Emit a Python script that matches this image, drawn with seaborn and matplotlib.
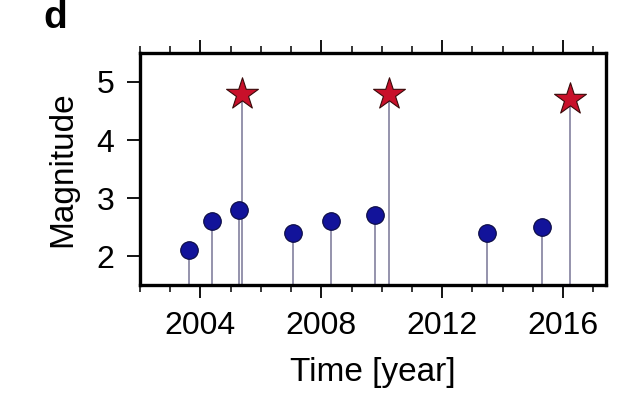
import matplotlib
matplotlib.use("Agg")
import matplotlib.pyplot as plt
import seaborn as sns
import pandas as pd
from matplotlib.ticker import MultipleLocator

# small events (circles)
small_year = [2003.62, 2004.38, 2005.29, 2007.07, 2008.31, 2009.77, 2013.49, 2015.29]
small_mag = [2.1, 2.6, 2.8, 2.4, 2.6, 2.7, 2.4, 2.5]
# large events (stars)
large_year = [2005.38, 2010.25, 2016.23]
large_mag = [4.8, 4.8, 4.7]
x_ticks = [2004, 2008, 2012, 2016]
y_ticks = [2, 3, 4, 5]

sns.set_theme(style="white")
plt.rcParams['font.family'] = ['Liberation Sans', 'DejaVu Sans']
plt.rcParams.update({"text.color": "black", "axes.labelcolor": "black",
                     "xtick.color": "black", "ytick.color": "black"})

fig = plt.figure(figsize=(6.44, 3.94), dpi=100)
ax = fig.add_axes([0.2174, 0.2766, 0.7236, 0.5889])

ymin, ymax = 1.5, 5.5
df_s = pd.DataFrame({"year": small_year, "mag": small_mag})
df_l = pd.DataFrame({"year": large_year, "mag": large_mag})

stem_c = "#8c8aa6"
ax.vlines(df_s["year"], ymin, df_s["mag"], color=stem_c, lw=1.3, zorder=1)
ax.vlines(df_l["year"], ymin, df_l["mag"], color=stem_c, lw=1.3, zorder=1)

sns.scatterplot(data=df_s, x="year", y="mag", ax=ax, marker="o", s=160,
                color="#12139a", edgecolor="#0a0a40", linewidth=0.8, zorder=3)
sns.scatterplot(data=df_l, x="year", y="mag", ax=ax, marker="*", s=580,
                color="#c8102a", edgecolor="#3a0a0a", linewidth=0.8, zorder=3)

ax.set_xlim(2002, 2017.42)
ax.set_ylim(ymin, ymax)
ax.set_xticks(x_ticks)
ax.set_yticks(y_ticks)
ax.xaxis.set_minor_locator(MultipleLocator(1))

for s in ax.spines.values():
    s.set_linewidth(2.4)
    s.set_color("black")

ax.tick_params(axis="x", which="major", direction="out", length=9.5, width=1.3,
               top=True, bottom=True, labelsize=23, pad=9)
ax.tick_params(axis="x", which="minor", direction="out", length=5, width=1.1,
               top=True, bottom=True)
ax.tick_params(axis="y", which="major", direction="out", length=9.5, width=1.3,
               left=True, right=False, labelsize=23, pad=9)

ax.set_xlabel("Time [year]", fontsize=24, labelpad=12)
ax.set_ylabel("Magnitude", fontsize=24, labelpad=13)

fig.text(0.068, 0.93, "d", fontsize=28, fontweight="bold", ha="left", va="baseline")

fig.savefig("out.png", dpi=100)
